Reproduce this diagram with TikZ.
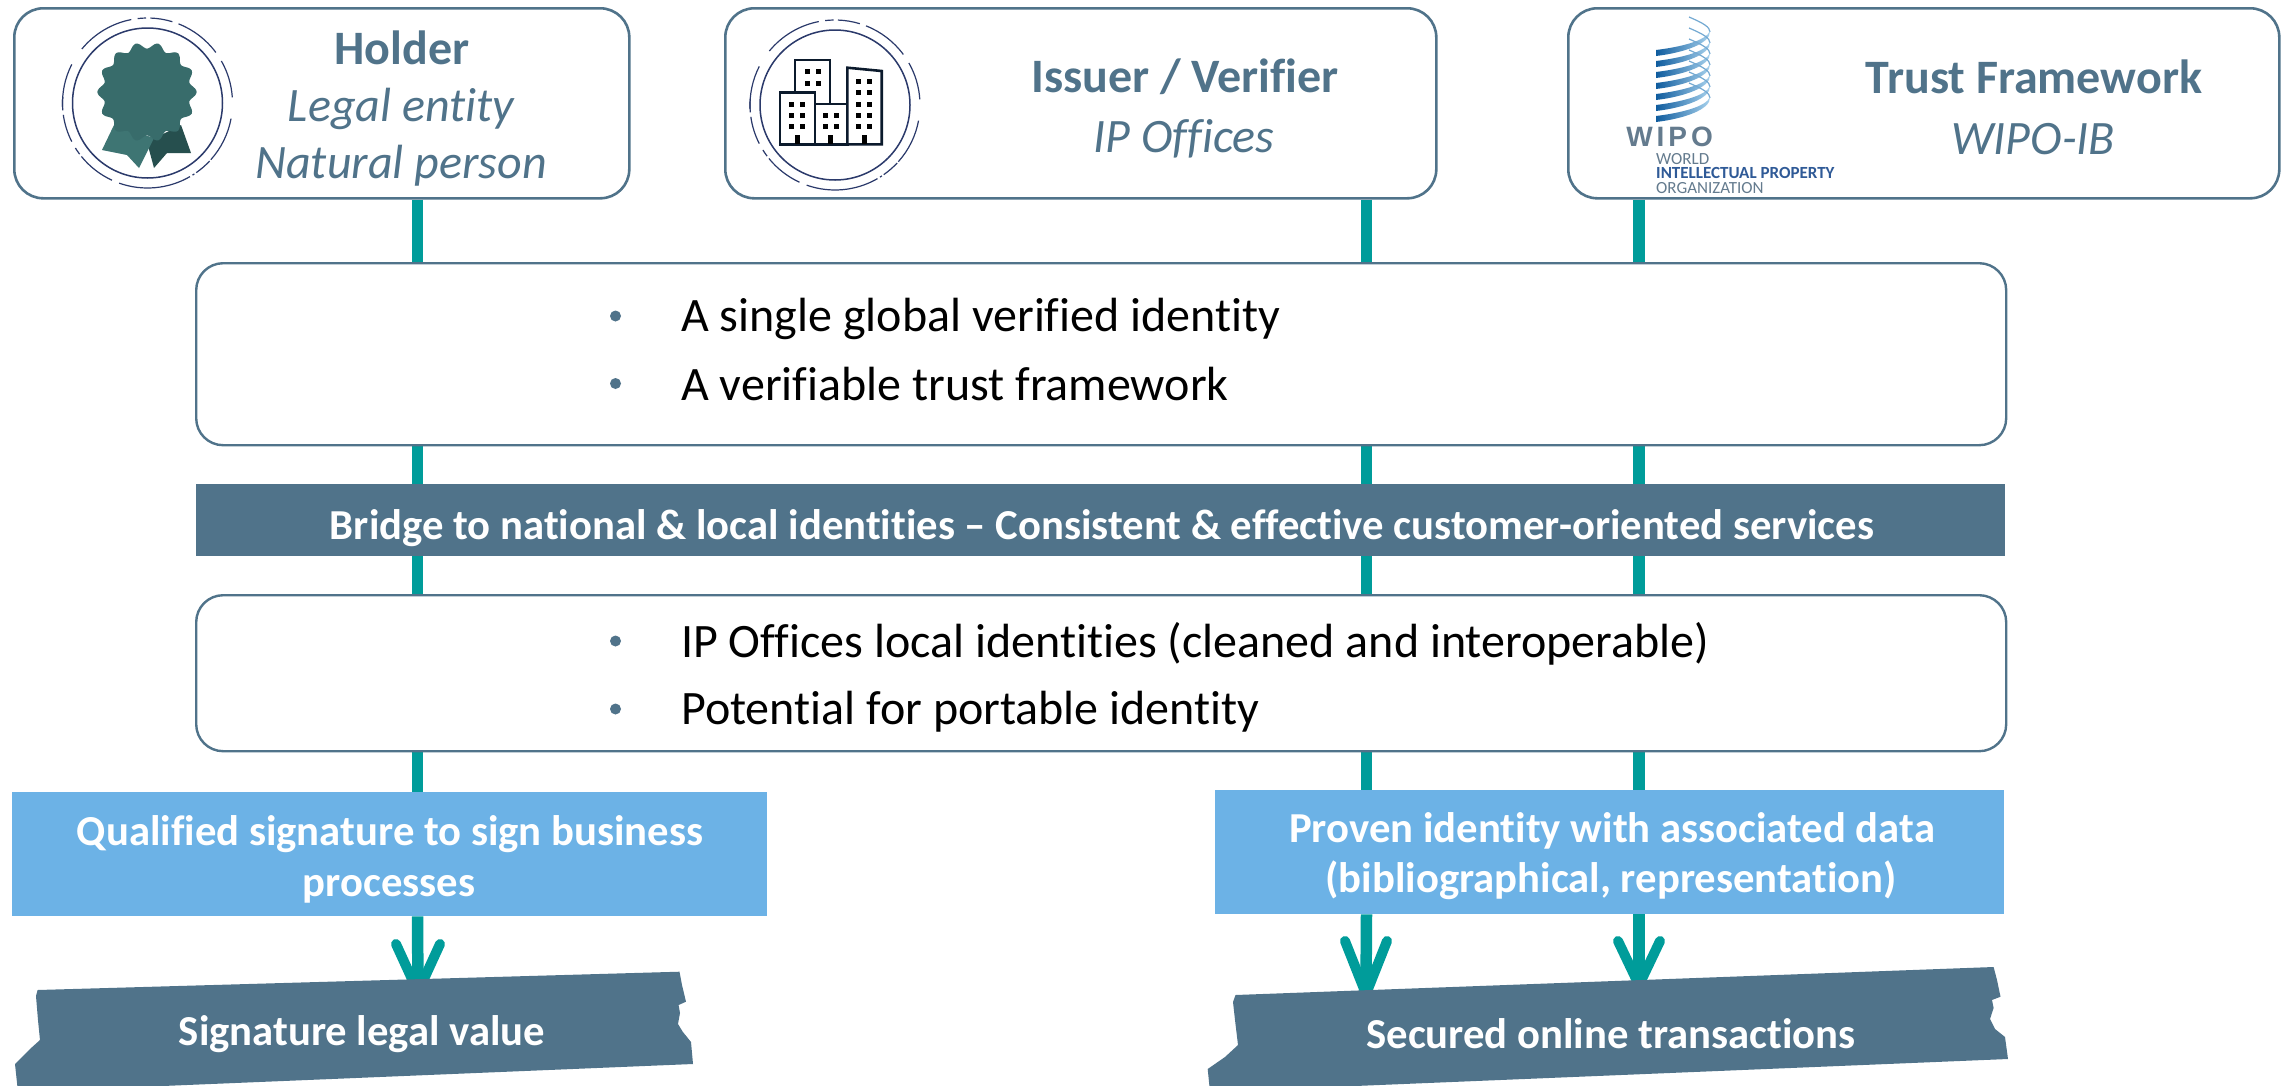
\documentclass[tikz,border=0pt]{standalone}
\usepackage{fontspec}
\setmainfont[Ligatures=NoCommon]{Carlito}
\newfontfamily\logofont{Liberation Sans}
\usetikzlibrary{backgrounds}
\definecolor{slate}{HTML}{50738A}
\definecolor{tealc}{HTML}{009C9A}
\definecolor{skyc}{HTML}{6CB2E6}
\definecolor{navyr}{HTML}{2B3A6B}
\definecolor{sealc}{HTML}{386C6B}
\definecolor{sealL}{HTML}{3E7573}
\definecolor{sealD}{HTML}{264F4E}
\definecolor{bldg}{HTML}{0B1A2C}
\definecolor{wipoD}{HTML}{0F5C9E}
\definecolor{wipoL}{HTML}{A9D3EE}
\definecolor{wipoG}{HTML}{647B8E}
\definecolor{wipoB}{HTML}{2F5A97}
\tikzset{
  x=1pt,y=-1pt,
  topbox/.style={draw=slate,line width=2.6pt,fill=white,rounded corners=29pt,inner sep=0,anchor=north west},
  midbox/.style={draw=slate,line width=2.4pt,fill=white,rounded corners=27pt,inner sep=0,anchor=north west},
  barbox/.style={fill=slate,inner sep=0,anchor=north west},
  skybox/.style={fill=skyc,inner sep=0,anchor=north west},
  headtxt/.style={text=slate,font=\fontsize{48}{48}\selectfont\bfseries,inner sep=0},
  subtxt/.style={text=slate,font=\fontsize{48}{48}\selectfont\itshape,inner sep=0},
  bodytxt/.style={text=black,font=\fontsize{48}{48}\selectfont,inner sep=0,anchor=west},
  whitetxt/.style={text=white,font=\fontsize{42.7}{42.7}\selectfont\bfseries,inner sep=0},
  bullet/.style={circle,fill=slate,minimum size=11pt,inner sep=0},
  link/.style={tealc,line width=11.5pt},
  arrowhead/.style={tealc,line width=10pt,line cap=round,miter limit=10},
  ringin/.style={navyr,line width=1.5pt},
  ringout/.style={navyr,line width=1.2pt},
  tape/.style={fill=slate},
  win/.style={fill=black},
  bline/.style={draw=bldg,line width=2.6pt,fill=white,line join=miter},
  ring/.pic={
    \draw[ringin] (0,0) circle[radius=75pt];
    \foreach \a/\b in {153/183,101/140.6,91/96.7,73/88,36.5/68.6,3.8/29.6,-41.8/-10.6,-55/-43,-58/-56.5,-109.5/-60,-141/-114.7,-148/-143,-172/-153,-184/-175}
      \draw[ringout] (\a:85pt) arc[start angle=\a,end angle=\b,radius=85pt];
  }
}
\begin{document}
\begin{tikzpicture}
\useasboundingbox (0,0) rectangle (2287,1085);
\clip (0,0) rectangle (2287,1085);

% boxes
\node[topbox,minimum width=615pt,minimum height=190pt] (holder) at (13,7) {};
\node[topbox,minimum width=711pt,minimum height=190pt] (issuer) at (724,7) {};
\node[topbox,minimum width=711pt,minimum height=190pt] (trust) at (1567,7) {};
\node[midbox,minimum width=1810pt,minimum height=182pt] (midA) at (195,262) {};
\node[barbox,minimum width=1809pt,minimum height=72pt] (bar) at (196,484) {};
\node[midbox,minimum width=1810pt,minimum height=156pt] (midB) at (195,594) {};
\node[skybox,minimum width=755pt,minimum height=124pt] (skyA) at (12,792) {};
\node[skybox,minimum width=789pt,minimum height=124pt] (skyB) at (1215,790) {};

% column positions and arrow tips
\coordinate (c1) at (417.5,0);
\coordinate (c2) at (1366.5,0);
\coordinate (c3) at (1639,0);
\coordinate (tipA) at (418,992);
\coordinate (tipB) at (1366,990);
\coordinate (tipC) at (1639,985);

% connectors
\begin{pgfonlayer}{background}
\draw[link] (holder.south -| c1) -- (midA.north -| c1);
\draw[link] (midA.south -| c1) -- (bar.north -| c1);
\draw[link] (bar.south -| c1) -- (midB.north -| c1);
\draw[link] (midB.south -| c1) -- (skyA.north -| c1);
\draw[link] (issuer.south -| c2) -- (midA.north -| c2);
\draw[link] (midA.south -| c2) -- (bar.north -| c2);
\draw[link] (bar.south -| c2) -- (midB.north -| c2);
\draw[link] (midB.south -| c2) -- (skyB.north -| c2);
\draw[link] (trust.south -| c3) -- (midA.north -| c3);
\draw[link] (midA.south -| c3) -- (bar.north -| c3);
\draw[link] (bar.south -| c3) -- (midB.north -| c3);
\draw[link] (midB.south -| c3) -- (skyB.north -| c3);
\draw[link] (skyA.south -| c1) -- (tipA);
\draw[link] (skyB.south -| c2) -- (tipB);
\draw[link] (skyB.south -| c3) -- (tipC);
\draw[arrowhead] ([shift={(-22,-48)}]tipA) -- (tipA) -- ([shift={(22,-48)}]tipA);
\draw[arrowhead] ([shift={(-21,-49)}]tipB) -- ([yshift=-4pt]tipB) -- ([shift={(21,-49)}]tipB);
\draw[arrowhead] ([shift={(-21,-44)}]tipC) -- (tipC) -- ([shift={(21,-44)}]tipC);
\end{pgfonlayer}

% tapes
\fill[tape] (37.6,990) -- (679.5,971.7) -- (682,985) -- (686,1001.7) -- (678.6,1005) -- (680,1013) -- (678,1024) -- (682.7,1031.7) -- (691,1042) -- (693,1064)
  -- (18,1092) -- (15,1064) -- (30,1049) -- (40,1040) -- (38,1020) -- (36,996) -- cycle;
\fill[tape] (1235.5,995) -- (1993.6,967) -- (1997,980) -- (2000.5,996.7) -- (1992,1000) -- (1993.6,1008) -- (1990,1019) -- (1995,1029) -- (2005,1037) -- (2008,1059)
  -- (1210,1092) -- (1207.7,1069) -- (1225,1057) -- (1238,1045) -- (1235,1020) -- (1233,1002) -- cycle;

% top texts
\node[headtxt] (t1) at (402,48) {Holder};
\node[subtxt] (t2) at (401,109) {Legal entity};
\node[subtxt] (t3) at (401,166) {Natural person};
\node[headtxt] (t4) at (1185,77) {Issuer / Verifier};
\node[subtxt] (t5) at (1184,139) {IP Offices};
\node[headtxt] (t6) at (2034,77) {Trust Framework};
\node[subtxt] (t7) at (2033,139) {WIPO-IB};

% body texts
\node[bullet] (b1) at (615.5,316) {};
\node[bodytxt] (l1) at (681,319) {A single global verified identity};
\node[bullet] (b2) at (615.5,383.5) {};
\node[bodytxt] (l2) at (681,384) {A verifiable trust framework};
\node[bullet] (b3) at (615.5,641) {};
\node[bodytxt] (l3) at (681,644) {IP Offices local identities (cleaned and interoperable)};
\node[bullet] (b4) at (615.5,709) {};
\node[bodytxt] (l4) at (681,712) {Potential for portable identity};
\node[whitetxt] (barT) at (1102,528) {Bridge to national \& local identities – Consistent \& effective customer-oriented services};
\node[whitetxt] (s1) at (390,834) {Qualified signature to sign business};
\node[whitetxt] (s2) at (389,889) {processes};
\node[whitetxt] (s3) at (1612,831) {Proven identity with associated data};
\node[whitetxt] (s4) at (1611,880) {(bibliographical, representation)};
\node[whitetxt] (z1) at (362,1034) {Signature legal value};
\node[whitetxt] (z2) at (1611,1034) {Secured online transactions};

% holder icon
\pic at (147.5,103) {ring};
\fill[sealD] (181,125) -- (191,153) -- (167,153) -- (154,168) -- (147,142) -- cycle;
\fill[sealL] (114,125) -- (102,150) -- (127,155) -- (139,168) -- (154,138) -- cycle;
\fill[sealc] plot[smooth cycle,samples=84,domain=0:356,variable=\t] ({147+(46.5+3.2*cos(14*\t))*cos(\t)},{92+(46.5+3.2*cos(14*\t))*sin(\t)});

% issuer icon
\pic at (835,105) {ring};
\draw[bline] (795,92.3) -- (795,60) -- (830,60) -- (830,104);
\draw[bline] (780,144.3) rectangle (815,92.3);
\draw[bline] (815,144.3) rectangle (847.3,104);
\draw[bline] (847.3,144.3) -- (847.3,67.7) -- (881.7,71) -- (881.7,144.3) -- cycle;
\foreach \x in {791.7,802.7} \foreach \y in {104,115,126} \fill[win] (\x-2.5,\y-2.5) rectangle ++(5,5);
\foreach \x in {807,818.3} \foreach \y in {71.7,83} \fill[win] (\x-2.5,\y-2.5) rectangle ++(5,5);
\foreach \x in {825,836} \foreach \y in {115,126} \fill[win] (\x-2.5,\y-2.5) rectangle ++(5,5);
\foreach \x in {858.3,869.3} \foreach \y in {81.7,92.7,104,115,126} \fill[win] (\x-2.5,\y-2.5) rectangle ++(5,5);
\foreach \x in {797.3,830.7,864} \fill[win] (\x-2.5,135) rectangle (\x+2.5,144);

% WIPO logo
\foreach \k in {0,...,6} {
  \pgfmathsetmacro{\yy}{52+11*\k}
  \draw[wipoD!35!wipoL,line width=1.2pt] (1689,\yy-35) .. controls (1703,\yy-29) and (1710,\yy-25) .. (1710,\yy-20);
  \shade[left color=wipoD,right color=wipoL] (1656,\yy-2) .. controls (1680,\yy-5) and (1706,\yy-11) .. (1710,\yy-21)
     .. controls (1711,\yy-8) and (1682,\yy+1) .. (1656,\yy+4) -- cycle;
}
\node[inner sep=0,anchor=east,text=wipoG,font=\logofont\bfseries\fontsize{28}{28}\selectfont\addfontfeature{LetterSpace=14}] (wipoA) at (1713,137) {WIPO};
\node[inner sep=0,anchor=west,text=wipoG,font=\fontsize{17}{17}\selectfont] (wipoC) at (1656,159) {WORLD};
\node[inner sep=0,anchor=west,text=wipoB,font=\fontsize{17}{17}\selectfont\bfseries] (wipoE) at (1656,173) {INTELLECTUAL PROPERTY};
\node[inner sep=0,anchor=west,text=wipoG,font=\fontsize{17}{17}\selectfont] (wipoF) at (1656,188) {ORGANIZATION};
\end{tikzpicture}
\end{document}
